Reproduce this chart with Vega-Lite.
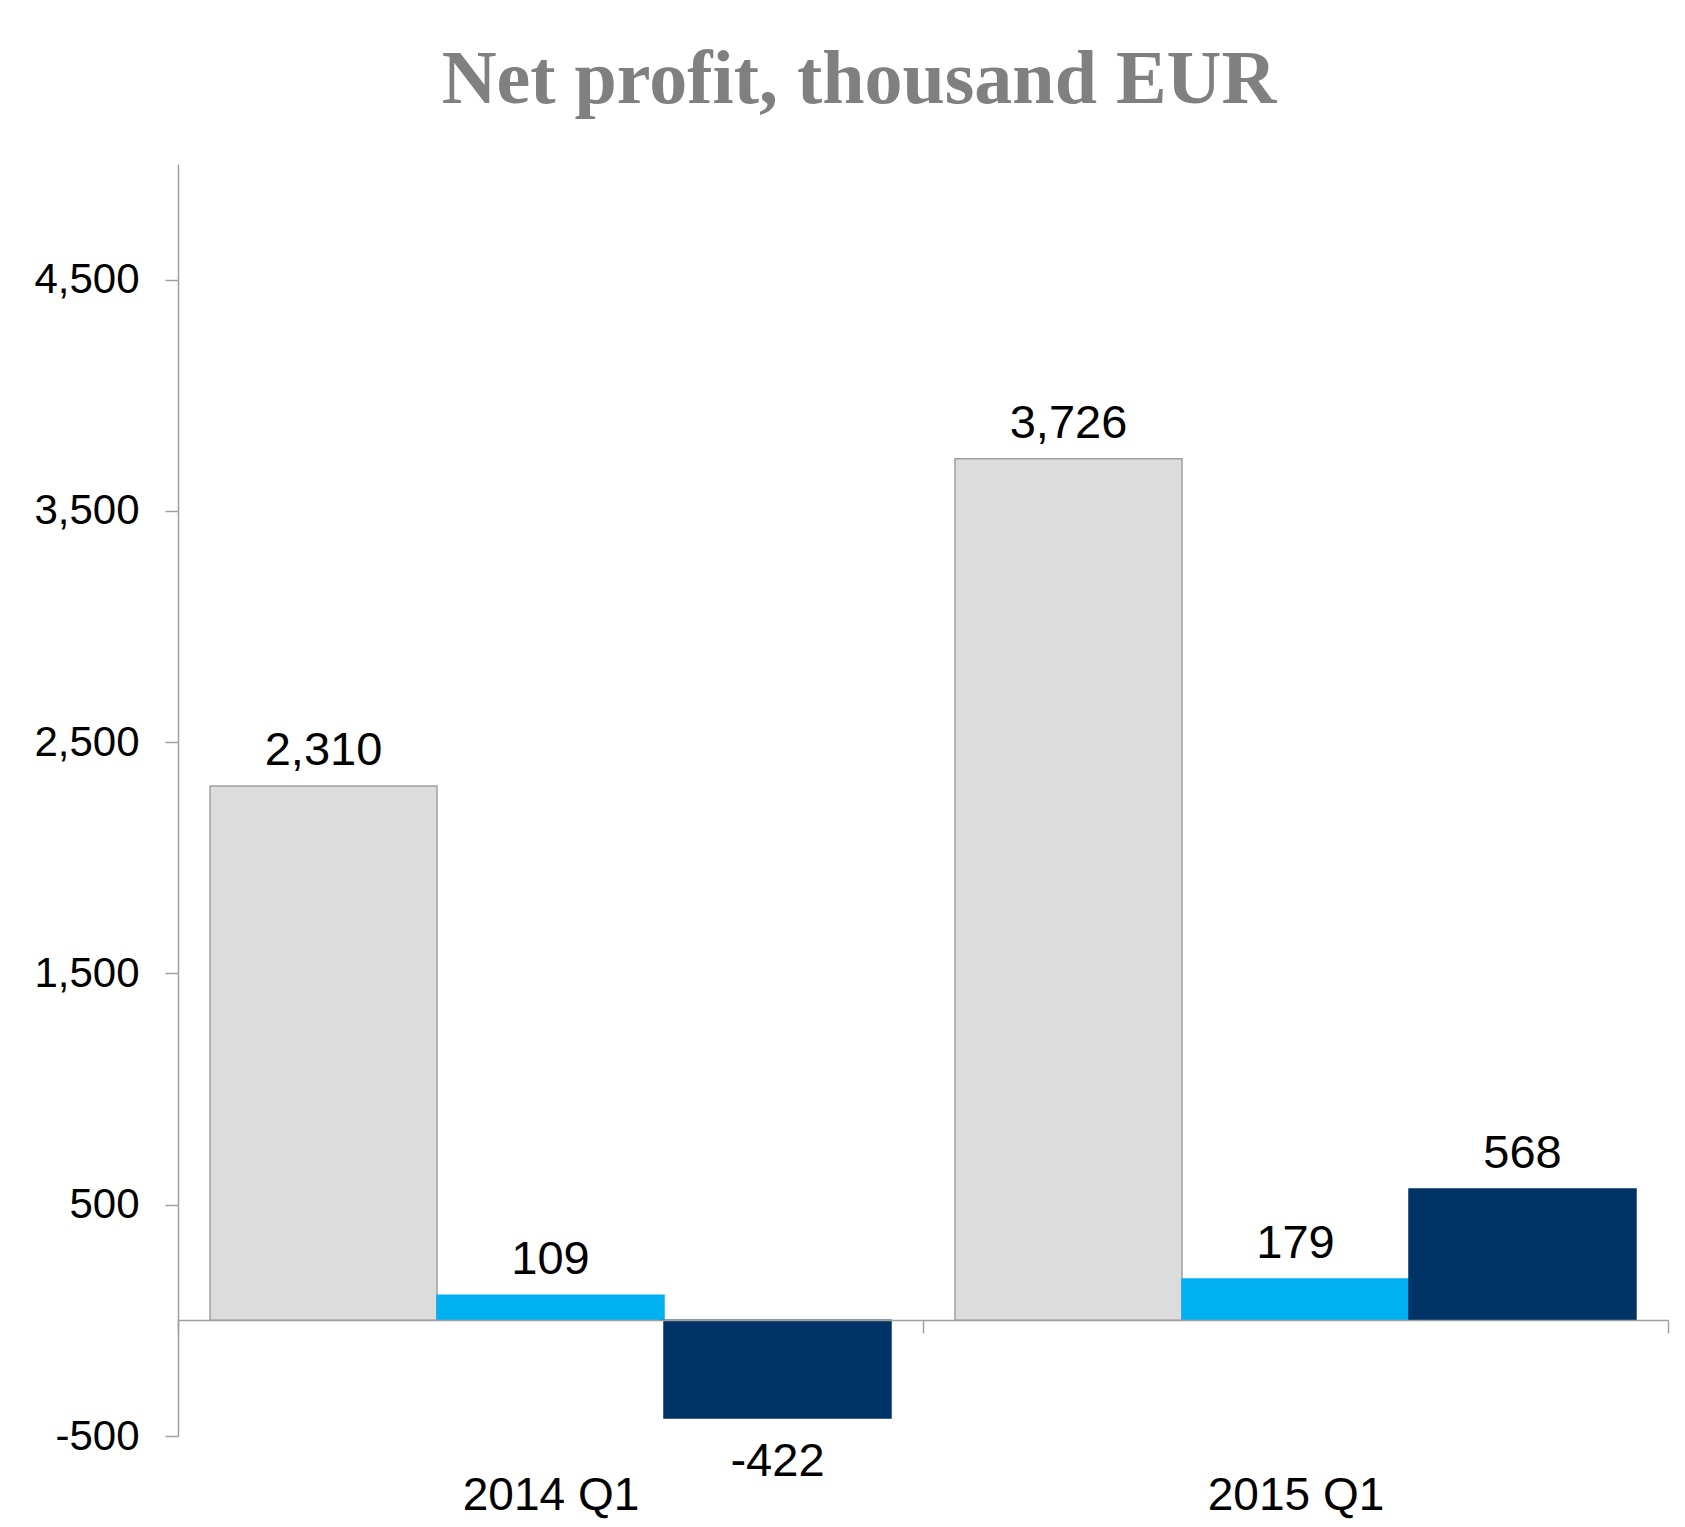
{
  "$schema": "https://vega.github.io/schema/vega-lite/v6.json",
  "width": 1490,
  "height": 1272,
  "autosize": {"type": "none"},
  "padding": {"left": 178, "top": 164, "right": 17, "bottom": 91},
  "background": "white",
  "config": {
    "view": {"stroke": null},
    "locale": {"number": {"decimal": ".", "thousands": ",", "grouping": [3], "currency": ["", ""], "minus": "-"}}
  },
  "title": {
    "text": "Net profit, thousand EUR",
    "font": "Liberation Serif",
    "fontWeight": "bold",
    "fontSize": 76,
    "color": "#808080",
    "anchor": "middle",
    "frame": "group",
    "baseline": "alphabetic",
    "offset": 57,
    "dx": -64,
    "dy": 72
  },
  "data": {
    "values": [
      {"quarter": "2014 Q1", "series": "Series 1", "value": 2310},
      {"quarter": "2014 Q1", "series": "Series 2", "value": 109},
      {"quarter": "2014 Q1", "series": "Series 3", "value": -422},
      {"quarter": "2015 Q1", "series": "Series 1", "value": 3726},
      {"quarter": "2015 Q1", "series": "Series 2", "value": 179},
      {"quarter": "2015 Q1", "series": "Series 3", "value": 568}
    ]
  },
  "encoding": {
    "x": {
      "field": "quarter",
      "type": "nominal",
      "sort": null,
      "scale": {"paddingInner": 0, "paddingOuter": 0},
      "axis": {
        "orient": "bottom",
        "offset": -116,
        "title": null,
        "zindex": 1,
        "domainColor": "#A0A0A0",
        "domainWidth": 1.5,
        "tickColor": "#A0A0A0",
        "tickWidth": 1.5,
        "tickSize": 13,
        "tickBand": "extent",
        "labelAngle": 0,
        "labelFont": "Liberation Sans",
        "labelFontSize": 46,
        "labelColor": "black",
        "labelBaseline": "alphabetic",
        "labelPadding": 176
      }
    },
    "xOffset": {
      "field": "series",
      "type": "nominal",
      "sort": null,
      "scale": {"paddingInner": 0, "paddingOuter": 0.141}
    },
    "y": {
      "field": "value",
      "type": "quantitative",
      "scale": {"domain": [-500, 5000], "nice": false, "zero": false},
      "axis": {
        "values": [-500, 500, 1500, 2500, 3500, 4500],
        "format": ",.0f",
        "grid": false,
        "title": null,
        "domainColor": "#A0A0A0",
        "domainWidth": 1.5,
        "tickColor": "#A0A0A0",
        "tickWidth": 1.5,
        "tickSize": 13,
        "labelFont": "Liberation Sans",
        "labelFontSize": 42,
        "labelColor": "black",
        "labelPadding": 26
      }
    }
  },
  "layer": [
    {
      "mark": {"type": "bar", "strokeWidth": 1.5},
      "encoding": {
        "color": {
          "field": "series",
          "type": "nominal",
          "scale": {"range": ["#DCDCDC", "#00B0F0", "#003366"]},
          "legend": null
        },
        "stroke": {
          "field": "series",
          "type": "nominal",
          "scale": {"range": ["#A0A0A0", "#00B0F0", "#003366"]},
          "legend": null
        }
      }
    },
    {
      "transform": [{"filter": "datum.value >= 0"}],
      "mark": {"type": "text", "font": "Liberation Sans", "fontSize": 47, "baseline": "alphabetic", "dy": -21, "color": "black"},
      "encoding": {"text": {"field": "value", "type": "quantitative", "format": ",.0f"}}
    },
    {
      "transform": [{"filter": "datum.value < 0"}],
      "mark": {"type": "text", "font": "Liberation Sans", "fontSize": 47, "baseline": "alphabetic", "dy": 58, "color": "black"},
      "encoding": {"text": {"field": "value", "type": "quantitative", "format": ",.0f"}}
    }
  ]
}
